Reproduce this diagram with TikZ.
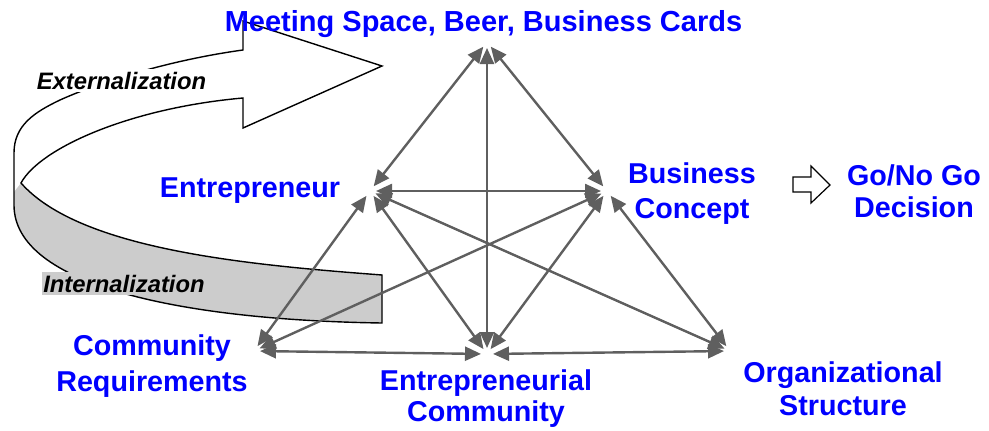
\documentclass[tikz,border=0pt]{standalone}
\usepackage{fontspec}
\setmainfont{Liberation Sans}
\usetikzlibrary{arrows.meta}
\definecolor{labelblue}{RGB}{0,0,255}
\definecolor{linkgray}{RGB}{95,95,95}
\definecolor{bandgray}{RGB}{204,204,204}
\tikzset{
  lbl/.style={text=labelblue, font=\fontsize{28.7}{34}\selectfont\bfseries, align=center, inner sep=0pt, anchor=north},
  side/.style={font=\fontsize{23.8}{28}\selectfont\bfseries\itshape, anchor=base, inner xsep=1.5pt, inner ysep=3pt},
  link/.style={draw=linkgray, line width=2.4pt, {Triangle[length=16pt,width=14pt]}-{Triangle[length=16pt,width=14pt]}, shorten <=6pt, shorten >=6pt},
  ribbon/.style={draw=black, line width=1.4pt, line join=miter},
}
\begin{document}
\begin{tikzpicture}[x=1pt,y=-1pt]
\useasboundingbox (0,0) rectangle (989,431);
% ribbon (externalization / internalization)
\fill[bandgray] (21,183) .. controls (80,250) and (250,265) .. (382,275) -- (382,323)
  .. controls (180,320) and (14,285) .. (14,205) -- (14,192) -- cycle;
\draw[ribbon] (21,183) .. controls (80,250) and (250,265) .. (382,275) -- (382,323)
  .. controls (180,320) and (14,285) .. (14,205) -- (14,153)
  .. controls (14,125) and (35,112) .. (60,100) .. controls (100,82) and (170,60) .. (243,50)
  -- (243,21) -- (382,66) -- (243,128) -- (243,98)
  .. controls (130,108) and (40,148) .. (21,183) -- cycle;
\node[side, fill=white] (ext) at (121.5,89) {Externalization};
\node[side, fill=bandgray] (int) at (124,292) {Internalization};
% hubs
\coordinate (T) at (487,42);
\coordinate (E) at (370,191);
\coordinate (B) at (607,191);
\coordinate (C) at (254,351);
\coordinate (M) at (487,354);
\coordinate (O) at (730,351);
% labels
\node[lbl, font=\fontsize{29}{34}\selectfont\bfseries] (meet) at (483.5,10) {Meeting Space, Beer, Business Cards};
\node[lbl] (ent) at (250,178) {Entrepreneur};
\node[lbl, font=\fontsize{28.7}{35}\selectfont\bfseries] (bc) at (692,163) {Business\\Concept};
\node[lbl, font=\fontsize{28.7}{32}\selectfont\bfseries] (go) at (914,165) {Go/No Go\\Decision};
\node[lbl, font=\fontsize{28.7}{36}\selectfont\bfseries] (cr) at (152,335) {Community\\Requirements};
\node[lbl, font=\fontsize{28.7}{31}\selectfont\bfseries] (ec) at (486,370) {Entrepreneurial\\Community};
\node[lbl, font=\fontsize{28.7}{33}\selectfont\bfseries] (os) at (843,362) {Organizational\\Structure};
% go arrow
\draw[line width=1.2pt, line join=miter] (793,177) -- (811,177) -- (811,166) -- (830,185)
  -- (811,203) -- (811,192) -- (793,192) -- cycle;
% links
\draw[link] (T) -- (E);
\draw[link] (T) -- (B);
\draw[link] (T) -- (M);
\draw[link] (E) -- (B);
\draw[link] (E) -- (C);
\draw[link] (E) -- (M);
\draw[link] (E) -- (O);
\draw[link] (B) -- (C);
\draw[link] (B) -- (M);
\draw[link] (B) -- (O);
\draw[link] (C) -- (M);
\draw[link] (M) -- (O);
\end{tikzpicture}
\end{document}
